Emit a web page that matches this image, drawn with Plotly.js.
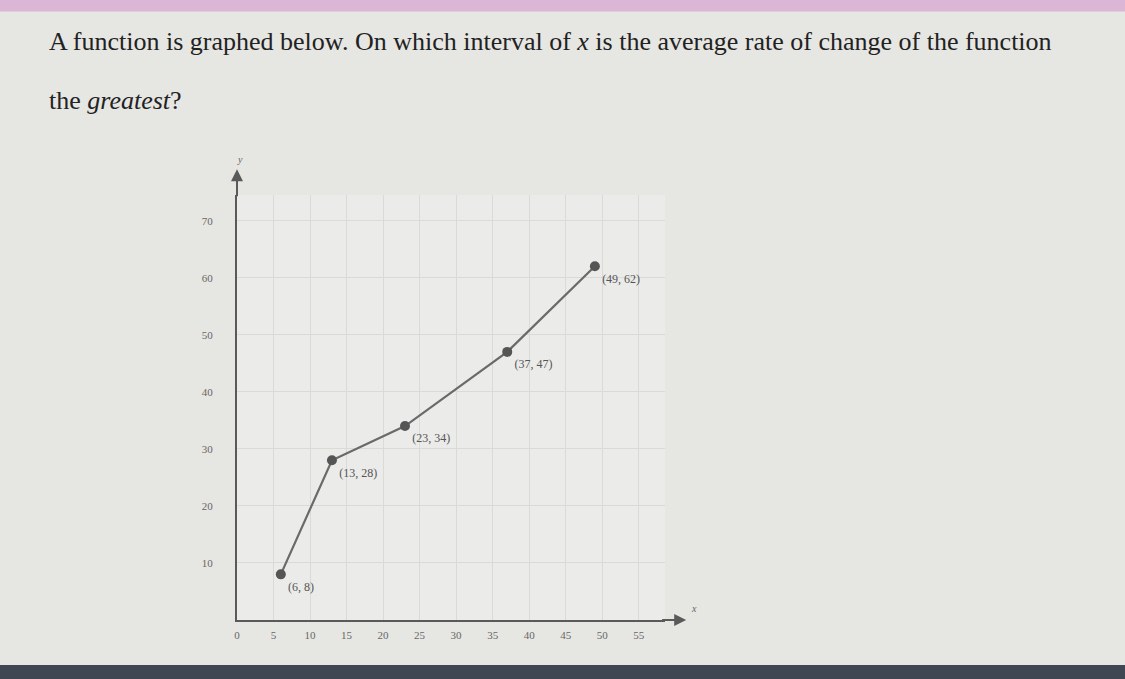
<!DOCTYPE html>
<html>
<head>
<meta charset="utf-8">
<script src="https://cdn.plot.ly/plotly-3.0.1.min.js"></script>
<style>html,body{margin:0;padding:0;background:#e6e6e3;}#chart{width:1125px;height:679px;}</style>
</head>
<body>
<div id="chart"></div>
<script>
// Data
const xValues = [6, 13, 23, 37, 49];
const yValues = [8, 28, 34, 47, 62];
const pointLabels = xValues.map((x, i) => '(' + x + ', ' + yValues[i] + ')');
const xTickValues = [0, 5, 10, 15, 20, 25, 30, 35, 40, 45, 50, 55];
const yTickValues = [10, 20, 30, 40, 50, 60, 70];
const questionLine1 = 'A function is graphed below. On which interval of <i>x</i> is the average rate of change of the function';
const questionLine2 = 'the <i>greatest</i>?';

const serif = '"Liberation Serif", "DejaVu Serif", serif';

const trace = {
  x: xValues,
  y: yValues,
  mode: 'lines+markers+text',
  text: pointLabels,
  textposition: 'bottom right',
  textfont: {family: serif, size: 12, color: '#555'},
  line: {color: '#6a6a6a', width: 2.2},
  marker: {color: '#555', size: 10},
  cliponaxis: false,
  hoverinfo: 'skip'
};

const layout = {
  width: 1125,
  height: 679,
  margin: {l: 237, r: 460, t: 195, b: 59},
  paper_bgcolor: '#e6e6e3',
  plot_bgcolor: '#ebebe9',
  showlegend: false,
  xaxis: {
    range: [0, 58.6],
    tickvals: xTickValues,
    ticktext: xTickValues.map(String),
    showgrid: true,
    gridcolor: '#dadad6',
    gridwidth: 1,
    zeroline: false,
    showline: true,
    linecolor: '#5a5a5a',
    linewidth: 2,
    ticks: '',
    ticklabelstandoff: 4,
    tickfont: {family: serif, size: 11, color: '#666'},
    fixedrange: true
  },
  yaxis: {
    range: [0, 74.5],
    tickvals: yTickValues,
    ticktext: yTickValues.map(String),
    showgrid: true,
    gridcolor: '#dadad6',
    gridwidth: 1,
    zeroline: false,
    showline: true,
    linecolor: '#5a5a5a',
    linewidth: 2,
    ticks: '',
    ticklabelstandoff: 20,
    tickfont: {family: serif, size: 11, color: '#666'},
    fixedrange: true
  },
  shapes: [
    {type: 'rect', xref: 'paper', yref: 'paper', x0: -1, x1: 3, y0: 1.432, y1: 1.5,
     fillcolor: '#dcb6d6', line: {width: 0}, layer: 'below'},
    {type: 'rect', xref: 'paper', yref: 'paper', x0: -1, x1: 3, y0: -0.106, y1: -0.2,
     fillcolor: '#3f4753', line: {width: 0}, layer: 'below'}
  ],
  annotations: [
    {xref: 'paper', yref: 'paper', x: -0.445, y: 1.36, xanchor: 'left', yanchor: 'middle',
     text: questionLine1, showarrow: false, font: {family: serif, size: 26, color: '#222'}},
    {xref: 'paper', yref: 'paper', x: -0.445, y: 1.222, xanchor: 'left', yanchor: 'middle',
     text: questionLine2, showarrow: false, font: {family: serif, size: 26, color: '#222'}},
    {xref: 'x', yref: 'y', axref: 'x', ayref: 'y', x: 61.5, y: 0, ax: 58, ay: 0,
     text: '', showarrow: true, arrowhead: 2, arrowsize: 1.2, arrowwidth: 2, arrowcolor: '#5a5a5a'},
    {xref: 'x', yref: 'y', axref: 'x', ayref: 'y', x: 0, y: 79, ax: 0, ay: 74,
     text: '', showarrow: true, arrowhead: 2, arrowsize: 1.2, arrowwidth: 2, arrowcolor: '#5a5a5a'},
    {xref: 'paper', yref: 'paper', x: 1.08, y: 0.01, text: '<i>x</i>', showarrow: false,
     font: {family: serif, size: 10, color: '#666'}},
    {xref: 'paper', yref: 'paper', x: -0.005, y: 1.1, text: '<i>y</i>', showarrow: false,
     font: {family: serif, size: 10, color: '#666'}}
  ]
};

Plotly.newPlot('chart', [trace], layout, {displayModeBar: false, staticPlot: true});
</script>
</body>
</html>
